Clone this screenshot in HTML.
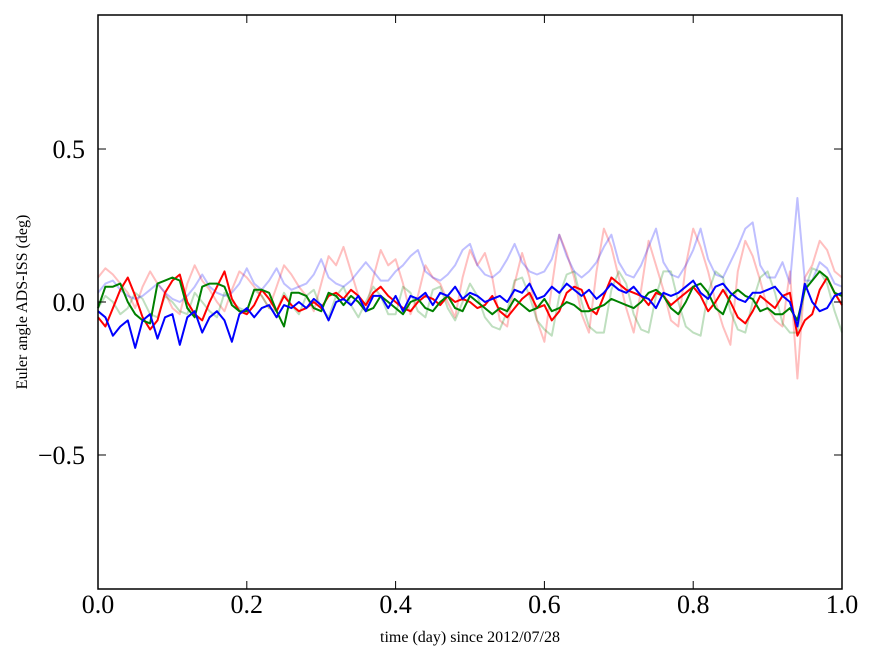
<!DOCTYPE html>
<html><head><meta charset="utf-8"><style>
html,body{margin:0;padding:0;background:#fff;}
svg text{font-family:"Liberation Serif","DejaVu Serif",serif;fill:#000;}
</style></head><body>
<svg id="chart" width="875" height="662" xmlns="http://www.w3.org/2000/svg">
<rect width="875" height="662" fill="#fff"/>
<g id="series"></g>
<g id="axes"></g>
<text x="470" y="642" font-size="16" text-anchor="middle">time (day) since 2012/07/28</text>
<text transform="translate(27,302) rotate(-90)" font-size="16" text-anchor="middle">Euler angle ADS-ISS (deg)</text>
</svg>
<script>
const xTicks=[0.0,0.2,0.4,0.6,0.8,1.0];
const xTickLabels=["0.0","0.2","0.4","0.6","0.8","1.0"];
const yTicks=[0.5,0.0,-0.5];
const yTickLabels=["0.5","0.0","\u22120.5"];
const tStep=0.01;
const lightBlue=[0.03,0.06,0.07,0.04,0.02,0.01,0.02,0.04,0.06,0.03,0.01,0.0,0.02,0.05,0.09,0.05,0.03,0.02,0.03,0.06,0.11,0.06,0.04,0.07,0.11,0.06,0.04,0.05,0.06,0.09,0.14,0.08,0.06,0.05,0.07,0.1,0.13,0.1,0.07,0.07,0.1,0.12,0.15,0.17,0.1,0.08,0.07,0.09,0.12,0.17,0.19,0.12,0.09,0.08,0.1,0.14,0.19,0.13,0.1,0.09,0.1,0.14,0.22,0.15,0.1,0.08,0.1,0.13,0.18,0.22,0.13,0.09,0.08,0.12,0.18,0.24,0.13,0.09,0.08,0.12,0.17,0.24,0.14,0.09,0.08,0.13,0.18,0.24,0.26,0.12,0.08,0.08,0.13,0.06,0.34,0.07,0.07,0.13,0.11,0.06,0.05];
const lightRed=[0.08,0.11,0.09,0.06,0.03,-0.02,0.05,0.1,0.06,0.03,-0.02,-0.04,0.06,0.12,0.07,0.04,0.0,-0.03,0.04,0.1,0.08,0.05,0.02,-0.02,0.05,0.12,0.09,0.05,0.02,-0.03,0.06,0.15,0.12,0.18,0.1,0.02,-0.03,0.08,0.17,0.12,0.14,0.06,-0.04,0.02,0.12,0.08,0.06,0.0,-0.05,0.08,0.17,0.12,0.16,0.08,-0.06,-0.08,0.06,0.16,0.08,-0.06,-0.13,0.05,0.22,0.16,0.08,-0.04,-0.1,0.1,0.24,0.18,0.08,-0.02,-0.1,0.04,0.2,0.12,0.04,-0.06,-0.08,0.12,0.24,0.18,0.1,0.0,-0.08,-0.14,0.1,0.2,0.15,0.07,-0.02,-0.06,-0.08,0.1,-0.25,0.08,0.12,0.2,0.17,0.1,0.08];
const lightGreen=[-0.02,0.02,0.0,-0.04,-0.02,0.03,0.01,-0.04,-0.05,0.02,0.0,-0.03,-0.04,0.03,0.0,-0.03,-0.05,0.03,0.0,-0.02,-0.03,0.04,0.02,-0.02,-0.03,0.03,-0.01,-0.04,0.02,0.04,-0.02,-0.05,0.02,0.05,-0.01,-0.05,0.0,0.05,0.02,-0.04,-0.04,0.05,0.03,-0.03,-0.05,0.04,0.05,-0.02,-0.06,0.0,0.06,0.02,-0.05,-0.08,-0.09,-0.03,0.07,0.08,0.02,-0.06,-0.09,-0.11,0.02,0.09,0.1,0.0,-0.08,-0.1,-0.1,0.04,0.1,0.06,-0.04,-0.09,-0.1,0.02,0.1,0.1,0.0,-0.08,-0.1,-0.11,0.03,0.1,0.08,-0.03,-0.09,-0.1,0.0,0.08,0.1,0.03,-0.07,-0.1,-0.1,0.04,0.11,0.1,0.06,-0.03,-0.1];
const darkRed=[-0.05,-0.08,-0.02,0.04,0.08,0.02,-0.05,-0.09,-0.06,0.03,0.07,0.09,0.0,-0.04,-0.06,0.0,0.05,0.1,0.01,-0.03,-0.04,-0.01,0.04,0.01,-0.03,0.02,-0.01,-0.03,-0.02,0.0,-0.02,0.02,0.03,0.01,0.04,0.02,-0.01,0.03,0.05,0.02,0.0,-0.02,-0.03,0.0,0.02,0.01,-0.01,0.02,0.0,0.01,0.0,-0.02,-0.01,0.02,-0.03,-0.05,-0.02,0.01,0.03,-0.02,-0.01,-0.06,-0.03,0.03,0.05,0.04,-0.02,-0.04,0.02,0.08,0.06,0.04,0.03,0.02,-0.01,0.03,0.02,-0.01,0.01,0.03,0.05,0.02,-0.03,0.0,0.04,0.0,-0.05,-0.07,-0.03,0.02,0.0,-0.02,0.02,0.03,-0.11,-0.06,-0.04,0.04,0.08,0.03,-0.01];
const darkGreen=[-0.02,0.05,0.05,0.06,0.0,-0.04,-0.06,-0.07,0.06,0.07,0.08,0.07,-0.02,-0.05,0.05,0.06,0.06,0.05,-0.01,-0.03,-0.03,0.04,0.04,0.03,-0.03,-0.08,0.03,0.03,0.02,-0.02,-0.03,0.03,0.02,-0.01,0.02,0.0,-0.03,-0.02,0.02,0.0,-0.02,-0.04,0.0,0.01,-0.02,-0.03,0.0,0.02,-0.02,-0.03,0.02,0.0,-0.02,-0.04,-0.02,-0.03,0.01,-0.01,-0.03,-0.02,0.01,-0.03,-0.02,0.0,-0.01,-0.03,-0.03,-0.02,-0.01,0.01,0.0,-0.01,-0.02,0.0,0.03,0.04,0.02,-0.02,-0.04,0.0,0.05,0.06,0.03,-0.02,-0.04,0.02,0.04,0.02,0.01,-0.03,-0.02,-0.04,-0.04,-0.02,-0.06,0.04,0.07,0.1,0.08,0.03,0.02];
const darkBlue=[-0.03,-0.05,-0.11,-0.08,-0.06,-0.15,-0.06,-0.04,-0.12,-0.05,-0.04,-0.14,-0.05,-0.03,-0.1,-0.05,-0.03,-0.06,-0.13,-0.04,-0.02,-0.05,-0.02,-0.01,-0.05,-0.01,-0.02,0.0,-0.02,0.01,-0.01,-0.06,0.0,0.01,-0.01,0.02,-0.03,0.02,0.02,-0.02,0.02,-0.03,0.02,0.01,0.03,-0.01,0.03,0.02,0.05,0.01,0.03,0.02,0.0,0.01,0.02,0.0,0.04,0.03,0.06,0.01,0.02,0.05,0.03,0.06,0.04,0.02,0.04,0.01,0.03,0.06,0.04,0.03,0.05,0.02,0.01,-0.02,0.03,0.02,0.03,0.05,0.07,0.03,0.01,0.05,0.06,0.03,0.01,0.0,0.03,0.03,0.04,0.05,0.02,0.0,-0.08,0.06,0.0,-0.03,-0.02,0.02,0.03];

const X0=98,X1=842,Y0=15,Y1=589;
const yMin=-0.938,yMax=0.938;
function xScale(t){return X0+(t-0)/(1-0)*(X1-X0);}
function yScale(v){return Y1-(v-yMin)/(yMax-yMin)*(Y1-Y0);}
const NS="http://www.w3.org/2000/svg";
const sg=document.getElementById('series');
const ag=document.getElementById('axes');

function drawSeries(vals,color,opacity,name){
  let d="";
  vals.forEach((v,i)=>{d+=(i?"L":"M")+xScale(i*tStep).toFixed(1)+","+yScale(v).toFixed(1);});
  const p=document.createElementNS(NS,'path');
  p.setAttribute('d',d);p.setAttribute('fill','none');p.setAttribute('stroke',color);
  p.setAttribute('stroke-width','2');p.setAttribute('stroke-opacity',opacity);
  p.setAttribute('stroke-linejoin','round');
  
  
  sg.appendChild(p);
}
drawSeries(lightRed,'#ff0000',0.25,'series-red-light');
drawSeries(lightGreen,'#008000',0.25,'series-green-light');
drawSeries(lightBlue,'#0000ff',0.25,'series-blue-light');
drawSeries(darkRed,'#ff0000',1,'series-red');
drawSeries(darkGreen,'#008000',1,'series-green');
drawSeries(darkBlue,'#0000ff',1,'series-blue');

const frame=document.createElementNS(NS,'rect');
frame.setAttribute('x',X0);frame.setAttribute('y',Y0);frame.setAttribute('width',X1-X0);frame.setAttribute('height',Y1-Y0);
frame.setAttribute('fill','none');frame.setAttribute('stroke','#000');frame.setAttribute('stroke-width','1.5');


ag.appendChild(frame);

function line(x1,y1,x2,y2){
  const l=document.createElementNS(NS,'line');
  l.setAttribute('x1',x1);l.setAttribute('y1',y1);l.setAttribute('x2',x2);l.setAttribute('y2',y2);
  l.setAttribute('stroke','#000');l.setAttribute('stroke-width','1');
  
  
  ag.appendChild(l);
}
function label(x,y,txt,anchor,name){
  const t=document.createElementNS(NS,'text');
  t.setAttribute('x',x);t.setAttribute('y',y);t.setAttribute('font-size','26');t.setAttribute('text-anchor',anchor);
  t.textContent=txt;
  
  
  ag.appendChild(t);
}
xTicks.forEach((t,i)=>{
  const x=xScale(t);
  line(x,Y1,x,Y1-8);line(x,Y0,x,Y0+8);
  label(x,613,xTickLabels[i],'middle','x-tick-label');
});
yTicks.forEach((v,i)=>{
  const y=yScale(v);
  line(X0,y,X0+8,y);line(X1,y,X1-8,y);
  label(85,y+9,yTickLabels[i],'end','y-tick-label');
});
</script>
</body></html>
